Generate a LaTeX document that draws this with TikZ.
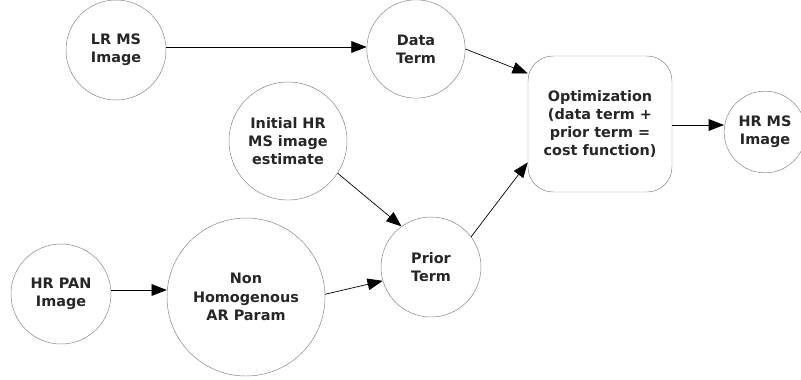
\documentclass[tikz,border=0pt]{standalone}
\usepackage{fontspec}
\setmainfont{DejaVu Sans}
\usetikzlibrary{arrows.meta}
\tikzstyle{arrow} = [semithick, -{Triangle[length=13pt,width=10pt]}]
\tikzstyle{state} = [circle, draw=gray, thin, align=center, inner sep=0pt,
                     text=black!85, font=\bfseries\fontsize{12.3}{15.6}\selectfont]

\begin{document}
\begin{tikzpicture}[x=0.03cm, y=-0.03cm]
            \useasboundingbox (0,0) rectangle (801,379);
            % nodes
            \node[state, minimum size=3cm] (lrms) at (116,50) {LR MS\\Image};
            \node[state, minimum size=2.95cm] (data) at (416,49) {Data\\Term};
            \node[state, minimum size=3.54cm] (init) at (288,141) {Initial HR\\MS image\\estimate};
            \node[state, minimum size=3cm] (pan) at (61,294) {HR PAN\\Image};
            \node[state, minimum size=4.74cm] (nh) at (246,297) {Non\\Homogenous\\AR Param};
            \node[state, minimum size=3cm] (prior) at (431,267) {Prior\\Term};
            \node[state, rectangle, rounded corners=0.75cm, minimum width=4.32cm,
                  minimum height=4.08cm] (opt) at (600,124)
                  {Optimization\\(data term +\\prior term =\\cost function)};
            \node[state, minimum size=2.45cm] (hrms) at (765,132) {HR MS\\Image};
            % connectors
            \draw[arrow] (lrms.east |- 0,47) -- (data.west |- 0,47);
            \draw[arrow] (data.east) -- (opt.145);
            \draw[arrow] (init.-33) -- (prior.126);
            \draw[arrow] (prior.37) -- (opt.208);
            \draw[arrow] (pan.east |- 0,290) -- (nh.west |- 0,290);
            \draw[arrow] (nh.2) -- (prior.196);
            \draw[arrow] (opt.east |- 0,125) -- (hrms.west |- 0,125);
\end{tikzpicture}
\end{document}
